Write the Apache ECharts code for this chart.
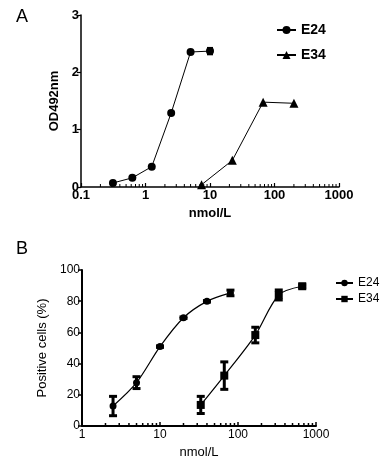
<!DOCTYPE html>
<html>
<head>
<meta charset="utf-8">
<script src="https://cdn.jsdelivr.net/npm/echarts@6/dist/echarts.min.js"></script>
<style>html,body{margin:0;padding:0;background:#fff}#c{width:383px;height:462px}</style>
</head>
<body>
<div id="c"></div>
<script>
// ---- Panel A data (OD492nm vs nmol/L) ----
var concA_E24 = [0.3125, 0.625, 1.25, 2.5, 5, 10];
var odA_E24   = [0.07, 0.16, 0.355, 1.29, 2.355, 2.37];
var errA_E24  = [0, 0, 0, 0, 0.01, 0.06];
var concA_E34 = [7.4, 22.2, 66.7, 200];
var odA_E34   = [0.04, 0.465, 1.48, 1.46];
var xTicksA = ['0.1', '1', '10', '100', '1000'];
var yTicksA = ['0', '1', '2', '3'];

// ---- Panel B data (Positive cells % vs nmol/L) ----
var concB_E24 = [2.5, 5, 10, 20, 40, 80];
var pcB_E24   = [12.8, 27.8, 50.9, 69.4, 79.9, 85.3];
var errB_E24  = [6.2, 3.8, 0.5, 0.5, 0.5, 1.8];
var concB_E34 = [33.3, 66.7, 166.7, 333, 666];
var pcB_E34   = [13.5, 32.3, 58.3, 84, 89.6];
var errB_E34  = [5.5, 8.8, 5.0, 3.2, 1.0];
var xTicksB = ['1', '10', '100', '1000'];
var yTicksB = ['0', '20', '40', '60', '80', '100'];

var minorMult = [2, 3, 4, 5, 6, 7, 8, 9];
function minorTicks(decades) {
  var out = [];
  decades.forEach(function (d) { minorMult.forEach(function (m) { out.push([m * d, 0]); }); });
  return out;
}
function zip(xs, ys) { return xs.map(function (x, i) { return [x, ys[i]]; }); }
function errData(xs, ys, es) { return xs.map(function (x, i) { return [x, ys[i] - es[i], ys[i] + es[i]]; }); }

function errSeries(idx, data, capW, lw) {
  return {
    type: 'custom', xAxisIndex: idx, yAxisIndex: idx, silent: true, z: 3,
    data: data,
    renderItem: function (params, api) {
      var lo = api.coord([api.value(0), api.value(1)]);
      var hi = api.coord([api.value(0), api.value(2)]);
      var x = lo[0];
      var st = { stroke: '#000', lineWidth: lw };
      return { type: 'group', children: [
        { type: 'line', shape: { x1: x, y1: lo[1], x2: x, y2: hi[1] }, style: st },
        { type: 'line', shape: { x1: x - capW / 2, y1: lo[1], x2: x + capW / 2, y2: lo[1] }, style: st },
        { type: 'line', shape: { x1: x - capW / 2, y1: hi[1], x2: x + capW / 2, y2: hi[1] }, style: st }
      ]};
    }
  };
}
function minorSeries(idx, data, len, lw) {
  return {
    type: 'custom', xAxisIndex: idx, yAxisIndex: idx, silent: true, z: 1,
    data: data,
    renderItem: function (params, api) {
      var p = api.coord([api.value(0), 0]);
      return { type: 'line', shape: { x1: p[0], y1: p[1], x2: p[0], y2: p[1] - len }, style: { stroke: '#000', lineWidth: lw } };
    }
  };
}

var FA = 'Liberation Sans, Arial, sans-serif';
var chart = echarts.init(document.getElementById('c'), null, { renderer: 'canvas' });
chart.setOption({
  animation: false,
  backgroundColor: '#fff',
  textStyle: { fontFamily: FA, color: '#000' },
  title: [
    { text: 'A', left: 11, top: 3, textStyle: { fontSize: 18, fontWeight: 'normal', color: '#000', fontFamily: FA } },
    { text: 'B', left: 11, top: 235, textStyle: { fontSize: 18, fontWeight: 'normal', color: '#000', fontFamily: FA } }
  ],
  legend: [
    { orient: 'vertical', left: 271, top: 18, itemWidth: 19, itemHeight: 10, itemGap: 11,
      data: ['A-E24', 'A-E34'], selectedMode: false,
      formatter: function (n) { return n.split('-')[1]; },
      textStyle: { fontSize: 14, fontWeight: 'bold', color: '#000', fontFamily: FA } },
    { orient: 'vertical', left: 330, top: 272, itemWidth: 17, itemHeight: 8, itemGap: 4,
      data: ['B-E24', 'B-E34'], selectedMode: false,
      formatter: function (n) { return n.split('-')[1]; },
      textStyle: { fontSize: 12, color: '#000', fontFamily: FA } }
  ],
  grid: [
    { left: 81, top: 15, right: 44, bottom: 275 },
    { left: 82, top: 270, right: 67, bottom: 36 }
  ],
  xAxis: [
    { type: 'log', logBase: 10, min: 0.1, max: 1000, gridIndex: 0,
      name: 'nmol/L', nameLocation: 'middle', nameGap: 20,
      nameTextStyle: { fontSize: 13, fontWeight: 'bold', color: '#000' },
      axisLine: { lineStyle: { color: '#000', width: 1.5 } },
      axisTick: { inside: true, length: 4, lineStyle: { color: '#000', width: 1.2 } },
      splitLine: { show: false },
      axisLabel: { margin: 2, fontSize: 13, fontWeight: 'bold', color: '#000',
        formatter: function (v) { var i = Math.round(Math.log10(v)) + 1; return xTicksA[i]; } } },
    { type: 'log', logBase: 10, min: 1, max: 1000, gridIndex: 1,
      name: 'nmol/L', nameLocation: 'middle', nameGap: 20,
      nameTextStyle: { fontSize: 13, color: '#000' },
      axisLine: { lineStyle: { color: '#000', width: 2 } },
      axisTick: { inside: true, length: 4, lineStyle: { color: '#000', width: 1.5 } },
      splitLine: { show: false },
      axisLabel: { margin: 3, fontSize: 12, color: '#000',
        formatter: function (v) { var i = Math.round(Math.log10(v)); return xTicksB[i]; } } }
  ],
  yAxis: [
    { type: 'value', min: 0, max: 3, interval: 1, gridIndex: 0,
      name: 'OD492nm', nameLocation: 'middle', nameGap: 14,
      nameTextStyle: { fontSize: 13, fontWeight: 'bold', color: '#000' },
      axisLine: { show: true, lineStyle: { color: '#000', width: 1.5 } },
      axisTick: { show: true, length: 4, lineStyle: { color: '#000', width: 1.2 } },
      splitLine: { show: false },
      axisLabel: { margin: 2, fontSize: 13, fontWeight: 'bold', color: '#000',
        formatter: function (v) { return yTicksA[Math.round(v)]; } } },
    { type: 'value', min: 0, max: 100, interval: 20, gridIndex: 1,
      name: 'Positive cells (%)', nameLocation: 'middle', nameGap: 26,
      nameTextStyle: { fontSize: 13, color: '#000' },
      axisLine: { show: true, lineStyle: { color: '#000', width: 2 } },
      axisTick: { show: true, length: 4, lineStyle: { color: '#000', width: 1.5 } },
      splitLine: { show: false },
      axisLabel: { margin: 2, fontSize: 12, color: '#000',
        formatter: function (v) { return yTicksB[Math.round(v / 20)]; } } }
  ],
  series: [
    minorSeries(0, minorTicks([0.1, 1, 10, 100]), 3, 1),
    minorSeries(1, minorTicks([1, 10, 100]), 3, 1.5),
    { name: 'A-E24', type: 'line', xAxisIndex: 0, yAxisIndex: 0, data: zip(concA_E24, odA_E24),
      symbol: 'circle', symbolSize: 8, itemStyle: { color: '#000' }, lineStyle: { color: '#000', width: 1 }, z: 4 },
    { name: 'A-E34', type: 'line', xAxisIndex: 0, yAxisIndex: 0, data: zip(concA_E34, odA_E34),
      symbol: 'triangle', symbolSize: 9, itemStyle: { color: '#000' }, lineStyle: { color: '#000', width: 1 }, z: 4 },
    errSeries(0, errData(concA_E24, odA_E24, errA_E24), 6, 1.5),
    { name: 'B-E24', type: 'line', xAxisIndex: 1, yAxisIndex: 1, data: zip(concB_E24, pcB_E24), smooth: 0.3,
      symbol: 'circle', symbolSize: 7, itemStyle: { color: '#000' }, lineStyle: { color: '#000', width: 1.2 }, z: 4 },
    { name: 'B-E34', type: 'line', xAxisIndex: 1, yAxisIndex: 1, data: zip(concB_E34, pcB_E34), smooth: 0.3,
      symbol: 'rect', symbolSize: 8, itemStyle: { color: '#000' }, lineStyle: { color: '#000', width: 1.2 }, z: 4 },
    errSeries(1, errData(concB_E24, pcB_E24, errB_E24), 8, 3),
    errSeries(1, errData(concB_E34, pcB_E34, errB_E34), 8, 3)
  ]
});
</script>
</body>
</html>
